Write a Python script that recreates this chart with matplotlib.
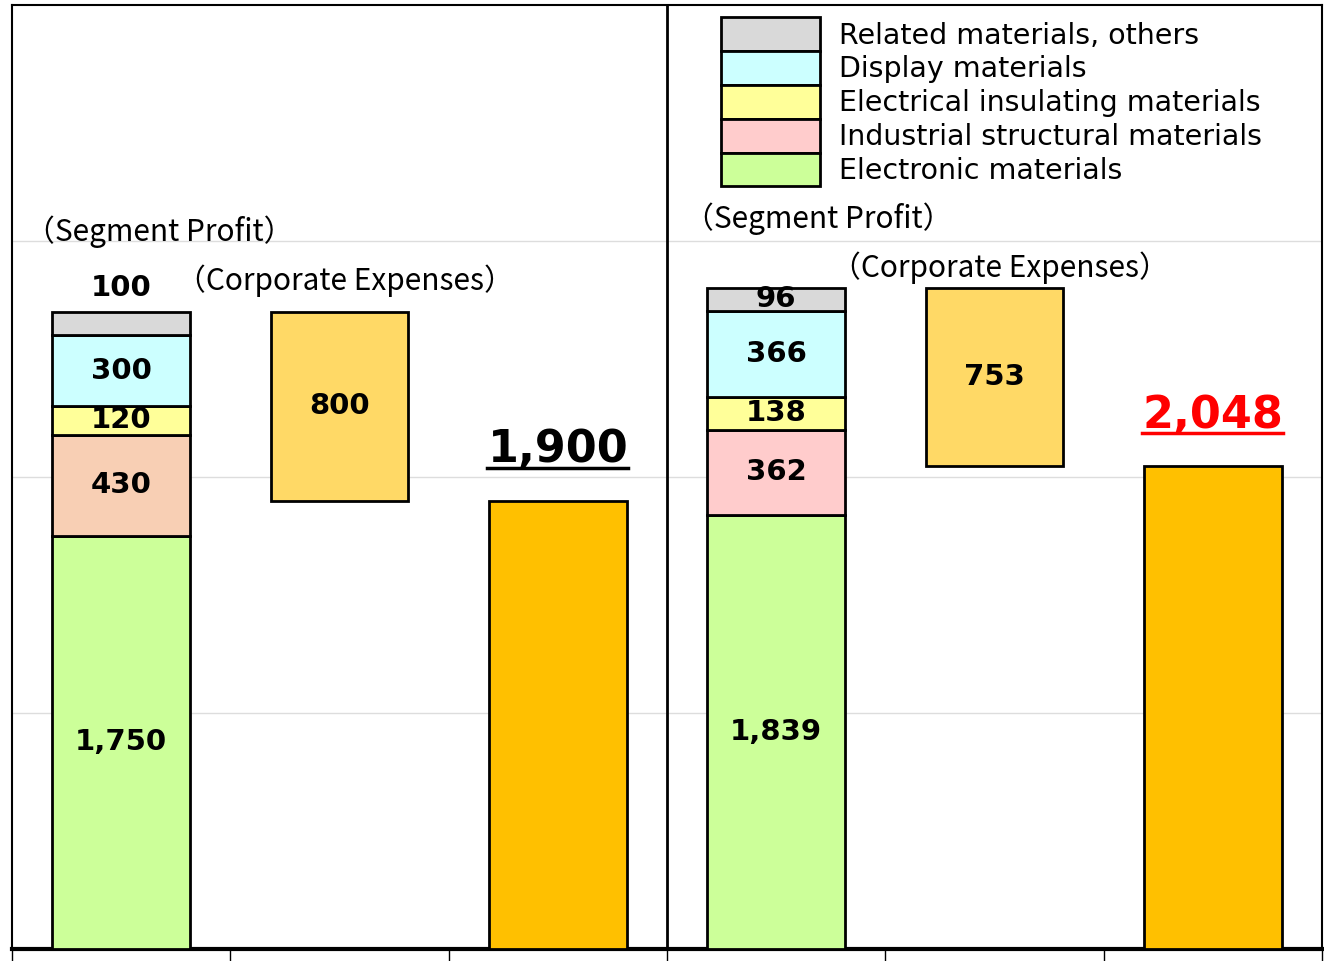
import matplotlib
matplotlib.use("Agg")
import matplotlib.pyplot as plt
from matplotlib.lines import Line2D

plt.rcParams["font.family"] = ["DejaVu Sans", "Noto Sans CJK JP"]

# segment profit, bottom to top
segments = ["Electronic materials", "Industrial structural materials",
            "Electrical insulating materials", "Display materials",
            "Related materials, others"]
profit_left = [1750, 430, 120, 300, 100]
profit_right = [1839, 362, 138, 366, 96]
corp_left = 800
corp_right = 753
total_left = 1900
total_right = 2048

colors_left = ["#CCFF99", "#F8CFB4", "#FFFF99", "#CCFFFF", "#D9D9D9"]
colors_right = ["#CCFF99", "#FFCCCC", "#FFFF99", "#CCFFFF", "#D9D9D9"]
corp_color = "#FFD966"
total_color = "#FFC000"

fig = plt.figure(figsize=(13.24, 9.61), dpi=100)
ax = fig.add_axes([12 / 1324, 1 - 949 / 961, 1310 / 1324, 944 / 961])
ax.set_xlim(-0.5, 5.5)
ax.set_ylim(0, 4000)

W = 0.63
EC = "black"
LW = 2
NUM = 21
CJK = ["Noto Sans CJK JP", "DejaVu Sans"]


def draw_panel(x0, profit, colors, corp, total, total_col, label_top):
    bottom = 0
    handles = []
    for i, (val, col, name) in enumerate(zip(profit, colors, segments)):
        b = ax.bar(x0, val, W, bottom=bottom, color=col, edgecolor=EC,
                   linewidth=LW, zorder=3, label=name)
        handles.append(b)
        if i < len(profit) - 1 or label_top:
            ax.text(x0, bottom + val / 2, f"{val:,}", ha="center", va="center",
                    fontsize=NUM, fontweight="bold", zorder=4)
        bottom += val
    top = bottom
    ax.bar(x0 + 1, -corp, W, bottom=top, color=corp_color, edgecolor=EC,
           linewidth=LW, zorder=3)
    ax.text(x0 + 1, top - corp / 2, f"{corp:,}", ha="center", va="center",
            fontsize=NUM, fontweight="bold", zorder=4)
    ax.bar(x0 + 2, total, W, color=total_color, edgecolor=EC,
           linewidth=LW, zorder=3)
    t = ax.annotate(f"{total:,}", (x0 + 2, total), xytext=(0, 21),
                    textcoords="offset points", ha="center", va="bottom",
                    fontsize=32, fontweight="bold", color=total_col, zorder=4)
    return handles, top, t


h_left, top_left, t1 = draw_panel(0, profit_left, colors_left, corp_left,
                                  total_left, "black", False)
h_right, top_right, t2 = draw_panel(3, profit_right, colors_right, corp_right,
                                    total_right, "red", True)

# the small 100 label sits above the left stack
ax.annotate(f"{profit_left[-1]:,}", (0, top_left), xytext=(0, 7),
            textcoords="offset points", ha="center", va="bottom",
            fontsize=NUM, fontweight="bold")

ax.text(-0.44, 3038, "（Segment Profit）", ha="left", va="center",
        fontsize=21.5, family=CJK)
ax.text(2.58, 3093, "（Segment Profit）", ha="left", va="center",
        fontsize=21.5, family=CJK)
ax.text(0.25, 2831, "（Corporate Expenses）", ha="left", va="center",
        fontsize=21.5, family=CJK)
ax.text(3.25, 2886, "（Corporate Expenses）", ha="left", va="center",
        fontsize=21.5, family=CJK)

ax.axvline(2.5, color="black", lw=2, zorder=5)

ax.set_yticks([1000, 2000, 3000])
ax.yaxis.grid(True, color="#DDDDDD", lw=1)
ax.set_axisbelow(True)
ax.tick_params(axis="y", left=False, labelleft=False)
ax.set_xticks([-0.5, 0.5, 1.5, 2.5, 3.5, 4.5, 5.5])
ax.tick_params(axis="x", direction="out", length=9, width=1, labelbottom=False)
for s in ["left", "top", "right"]:
    ax.spines[s].set_linewidth(1.5)
ax.spines["bottom"].set_linewidth(3)

leg = ax.legend(handles=h_right[::-1], labels=segments[::-1], loc="upper left",
                bbox_to_anchor=(0.541, 0.987), frameon=False, fontsize=20.5,
                handlelength=3.5, handleheight=1.45, labelspacing=0,
                handletextpad=0.66, borderpad=0, borderaxespad=0)

# underline the total labels
fig.canvas.draw()
r = fig.canvas.get_renderer()
for t in (t1, t2):
    bb = t.get_window_extent(r).transformed(fig.transFigure.inverted())
    fig.add_artist(Line2D([bb.x0, bb.x1], [bb.y0 + 0.004, bb.y0 + 0.004],
                          color=t.get_color(), lw=2.5))

fig.savefig("out.png", dpi=100)
